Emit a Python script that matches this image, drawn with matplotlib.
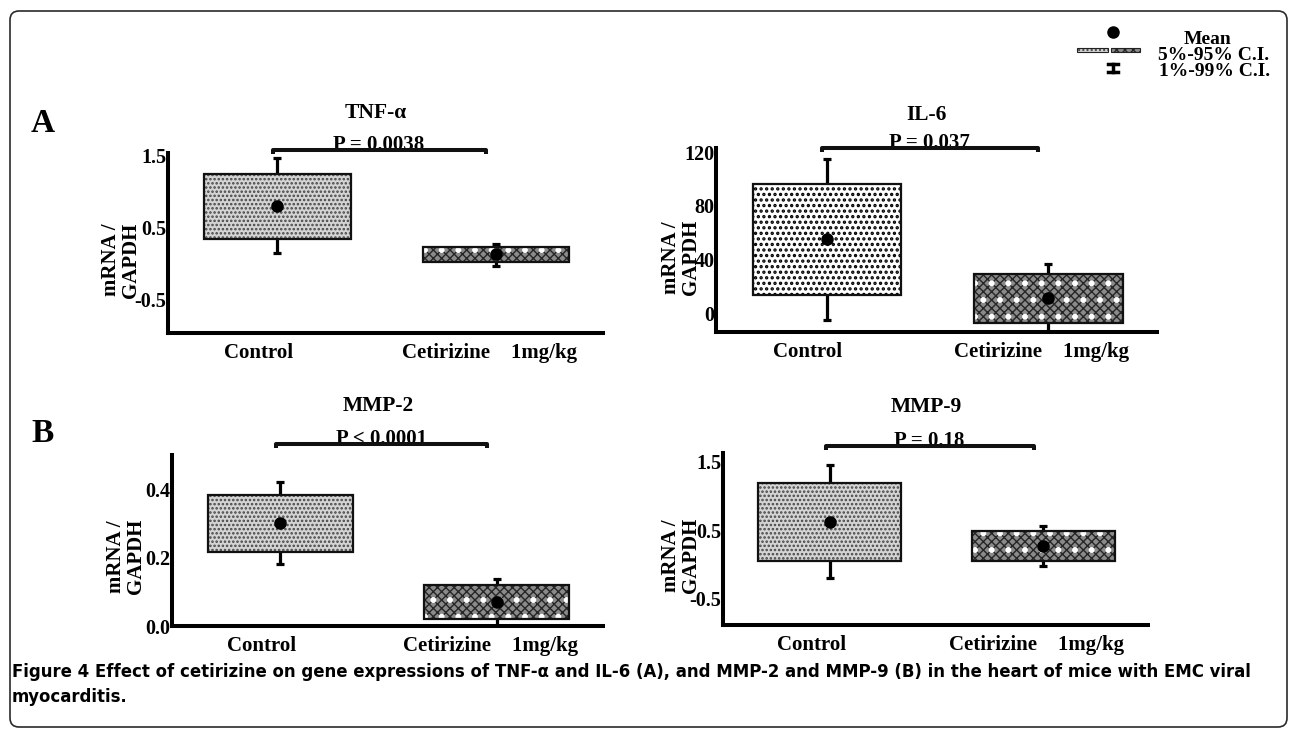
import matplotlib
matplotlib.use("Agg")
import matplotlib.pyplot as plt
import matplotlib.transforms as mtransforms
from matplotlib.patches import Rectangle, FancyBboxPatch

plt.rcParams['font.family'] = ['Liberation Serif', 'DejaVu Serif']
plt.rcParams['font.weight'] = 'bold'

# Data
groups = ['Control', 'Cetirizine    1mg/kg']
genes = ['TNF-\u03b1', 'IL-6', 'MMP-2', 'MMP-9']
p_texts = ['P = 0.0038', 'P = 0.037', 'P < 0.0001', 'P = 0.18']

tnf_mean = [0.79, 0.125]
tnf_q5 = [0.33, 0.01]
tnf_q95 = [1.24, 0.225]
tnf_q1 = [0.14, -0.04]
tnf_q99 = [1.455, 0.26]

il6_mean = [55, 11]
il6_q5 = [13.5, -7]
il6_q95 = [96, 29]
il6_q1 = [-5, -20]
il6_q99 = [115, 37]

mmp2_mean = [0.30, 0.071]
mmp2_q5 = [0.216, 0.02]
mmp2_q95 = [0.382, 0.12]
mmp2_q1 = [0.18, -0.02]
mmp2_q99 = [0.42, 0.137]

mmp9_mean = [0.62, 0.27]
mmp9_q5 = [0.055, 0.055]
mmp9_q95 = [1.19, 0.485]
mmp9_q1 = [-0.19, -0.02]
mmp9_q99 = [1.46, 0.57]

yticks = [[-0.5, 0.5, 1.5], [0, 40, 80, 120], [0.0, 0.2, 0.4], [-0.5, 0.5, 1.5]]
yticklabels = [['-0.5', '0.5', '1.5'], ['0', '40', '80', '120'],
               ['0.0', '0.2', '0.4'], ['-0.5', '0.5', '1.5']]

series = [
    (tnf_mean, tnf_q5, tnf_q95, tnf_q1, tnf_q99),
    (il6_mean, il6_q5, il6_q95, il6_q1, il6_q99),
    (mmp2_mean, mmp2_q5, mmp2_q95, mmp2_q1, mmp2_q99),
    (mmp9_mean, mmp9_q5, mmp9_q95, mmp9_q1, mmp9_q99),
]

# layout (pixels): left, top, right, bottom of each panel
W, H = 1290, 730
rects = [(168, 153, 603, 333), (716, 148, 1157, 332),
         (172, 455, 603, 626), (723, 453, 1148, 625)]
ylims = [(-0.97, 1.53), (-14, 123), (0, 0.5), (-0.88, 1.63)]
title_off = [40, 33, 49, 46]
bracket_off = [3, 0, 11, 7]
ylab_off = [47, 35, 46, 42]
ctrl_face = ['#d4d4d4', 'white', '#d4d4d4', '#d4d4d4']
ctrl_hatch = ['....', '...', '....', '....']
ctrl_hcol = ['#454545', '#000000', '#454545', '#454545']

fig = plt.figure(figsize=(12.9, 7.3), dpi=100)

xpos = [1, 2]
for i in range(4):
    l, t, r, b = rects[i]
    hpx = b - t
    ax = fig.add_axes([l / W, 1 - b / H, (r - l) / W, hpx / H])
    ax.set_facecolor('none')
    mean, q5, q95, q1, q99 = series[i]

    lo = [m - v for m, v in zip(mean, q1)]
    hi = [v - m for m, v in zip(mean, q99)]
    ax.errorbar(xpos, mean, yerr=[lo, hi], fmt='none', ecolor='black',
                elinewidth=2.3, capsize=3, capthick=2.3, zorder=1)

    heights = [a - c for a, c in zip(q95, q5)]
    # control box
    with plt.rc_context({'hatch.linewidth': 1.6 if i == 1 else 1.2}):
        ax.bar(xpos[0], heights[0], bottom=q5[0], width=0.67, color=ctrl_face[i],
               edgecolor=ctrl_hcol[i], hatch=ctrl_hatch[i], linewidth=0, zorder=2)
    # cetirizine box
    with plt.rc_context({'hatch.linewidth': 1.0}):
        ax.bar(xpos[1], heights[1], bottom=q5[1], width=0.67, color='#8a8a8a',
               edgecolor='#262626', hatch='xxxx', linewidth=0, zorder=2)
    with plt.rc_context({'hatch.linewidth': 1.8}):
        ax.bar(xpos[1], heights[1], bottom=q5[1], width=0.67, color='none',
               edgecolor='white', hatch='.', linewidth=0, zorder=2.1)
    ax.bar(xpos, heights, bottom=q5, width=0.67, color='none',
           edgecolor='#111111', linewidth=1.6, zorder=2.2)
    ax.plot(xpos, mean, 'o', color='black', ms=8, zorder=4)

    ax.set_xlim(0.5, 2.49)
    ax.set_ylim(*ylims[i])
    ax.set_xticks([])
    ax.set_yticks(yticks[i])
    ax.set_yticklabels(yticklabels[i], fontsize=14.5, fontweight='bold')
    ax.tick_params(axis='y', length=0, pad=1)
    for s in ['top', 'right']:
        ax.spines[s].set_visible(False)
    for s in ['left', 'bottom']:
        ax.spines[s].set_linewidth(2.9)
        ax.spines[s].set_capstyle('projecting')

    blend = mtransforms.blended_transform_factory(ax.transData, ax.transAxes)
    # group labels
    ax.text(1 - 0.085, -20 / hpx, groups[0], transform=blend, ha='center',
            va='center', fontsize=15)
    ax.text(2 - 0.03, -20 / hpx, groups[1], transform=blend, ha='center',
            va='center', fontsize=15)
    # title and significance bracket
    ax.text(1.45, 1 + title_off[i] / hpx, genes[i], transform=blend,
            ha='center', va='center', fontsize=15.5, clip_on=False)
    yb = 1 + bracket_off[i] / hpx
    ax.text(1.465, yb, p_texts[i], transform=blend, ha='center',
            va='baseline', fontsize=15, clip_on=False, zorder=3)
    ax.plot([0.98, 0.98, 1.955, 1.955], [yb - 4 / hpx, yb, yb, yb - 4 / hpx],
            color='#111111', lw=2.9, transform=blend, clip_on=False, zorder=5,
            solid_capstyle='butt')
    # y label
    ax.annotate('mRNA /\nGAPDH', xy=(0, 0.405), xycoords='axes fraction',
                xytext=(-ylab_off[i] * 0.72, 0), textcoords='offset points',
                rotation=90, ha='center', va='center', multialignment='center',
                fontsize=15, linespacing=1.05, annotation_clip=False)

# overlay in pixel coordinates for frame, letters, key and caption
ov = fig.add_axes([0, 0, 1, 1])
ov.set_xlim(0, W)
ov.set_ylim(H, 0)
ov.axis('off')
ov.patch.set_visible(False)

ov.add_patch(FancyBboxPatch((10, 11), 1277, 716,
                            boxstyle='round,pad=0,rounding_size=9',
                            fill=False, ec='#2a2a2a', lw=1.2))
ov.text(43, 123, 'A', fontsize=24, ha='center', va='center')
ov.text(43, 433, 'B', fontsize=24, ha='center', va='center')

# key
ov.plot(1113, 32, 'o', color='black', ms=8)
with plt.rc_context({'hatch.linewidth': 1.0}):
    ov.add_patch(Rectangle((1077, 47.5), 31, 4.5, facecolor='#d4d4d4',
                           edgecolor='#454545', hatch='....', lw=0))
    ov.add_patch(Rectangle((1111, 47.5), 29, 4.5, facecolor='#8a8a8a',
                           edgecolor='#262626', hatch='xxxx', lw=0))
ov.add_patch(Rectangle((1077, 47.5), 31, 4.5, fill=False, ec='#222222', lw=0.8))
ov.add_patch(Rectangle((1111, 47.5), 29, 4.5, fill=False, ec='#222222', lw=0.8))
ov.plot([1113, 1113], [63.5, 71.5], color='black', lw=2.5)
ov.plot([1108, 1118], [63.5, 63.5], color='black', lw=2.5)
ov.plot([1108, 1118], [71.5, 71.5], color='black', lw=2.5)
ov.text(1208, 39.5, 'Mean', fontsize=14, ha='center', va='center')
ov.text(1214, 55, '5%-95% C.I.', fontsize=14, ha='center', va='center')
ov.text(1215, 71, '1%-99% C.I.', fontsize=14, ha='center', va='center')

# caption
cap_font = ['DejaVu Sans']
ov.text(12, 672, 'Figure 4 Effect of cetirizine on gene expressions of TNF-\u03b1 '
        'and IL-6 (A), and MMP-2 and MMP-9 (B) in the heart of mice with EMC viral',
        family=cap_font, fontsize=13.2, fontweight='bold', fontstretch='condensed',
        ha='left', va='center')
ov.text(12, 697, 'myocarditis.', family=cap_font, fontsize=13.2,
        fontweight='bold', fontstretch='condensed', ha='left', va='center')

fig.savefig('out.png', dpi=100)
